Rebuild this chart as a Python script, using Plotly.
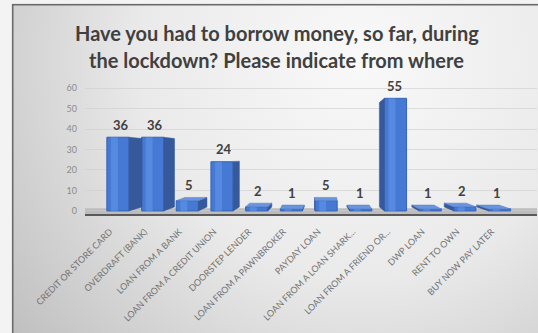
import base64
import plotly.graph_objects as go

# Sources of borrowing during the lockdown (number of respondents)
categories = [
    "CREDIT OR STORE CARD", "OVERDRAFT (BANK)", "LOAN FROM A BANK",
    "LOAN FROM A CREDIT UNION", "DOORSTEP LENDER", "LOAN FROM A PAWNBROKER",
    "PAYDAY LOAN", "LOAN FROM A LOAN SHARK...", "LOAN FROM A FRIEND OR...",
    "DWP LOAN", "RENT TO OWN", "BUY NOW PAY LATER",
]
counts = [36, 36, 5, 24, 2, 1, 5, 1, 55, 1, 2, 1]
y_ticks = [0, 10, 20, 30, 40, 50, 60]
title_lines = [
    "Have you had to borrow money, so far, during",
    "the lockdown? Please indicate from where",
]

W, H = 538, 333
ML, MR, MT, MB = 85, 1, 84, 119
PW, PH = W - ML - MR, H - MT - MB

X_RANGE = [-0.95, 12.08]
Y_RANGE = [-1.5, 62]

# pseudo-3D column geometry (in axis units)
BAR_W = 0.64
VANISH_X = 5.78      # columns left of this show their right side, right ones their left
SKEW = 0.065         # horizontal depth per unit distance from VANISH_X
EYE = 27.0           # height at which the back edge lines up with the front edge
RISE = 0.072         # upward depth shift per unit below EYE

FRONT = "#4679d3"
SHINE = "#5a8de4"
SIDE = "#35599a"
TOP = "#6a95de"


def depth_dx(i):
    return SKEW * (VANISH_X - i)


def rise(h):
    return RISE * (EYE - h)


def px_x(px):
    return (px - ML) / PW


def px_y(py):
    return 1 + (MT - py) / PH


side_x, side_y, top_x, top_y = [], [], [], []
for i, v in enumerate(counts):
    x0, x1 = i - BAR_W / 2, i + BAR_W / 2
    dx = depth_dx(i)
    edge = x1 if dx > 0 else x0
    side_x += [edge, edge + dx, edge + dx, edge, edge, None]
    side_y += [0, rise(0), v + rise(v), v, 0, None]
    if rise(v) > 0:
        top_x += [x0, x1, x1 + dx, x0 + dx, x0, None]
        top_y += [v, v, v + rise(v), v + rise(v), v, None]

xs = list(range(len(counts)))
fig = go.Figure()

fig.add_trace(go.Bar(
    x=xs, y=counts, width=BAR_W,
    marker=dict(color=FRONT, line=dict(color="#3563b5", width=1)),
    hoverinfo="skip", showlegend=False,
))
# soft highlight band on the column faces
fig.add_trace(go.Bar(
    x=xs, y=counts, width=0.2, offset=-0.2,
    marker=dict(color=SHINE, line=dict(width=0)), opacity=0.8,
    hoverinfo="skip", showlegend=False,
))
fig.add_trace(go.Scatter(
    x=side_x, y=side_y, mode="lines", fill="toself", fillcolor=SIDE,
    line=dict(color=SIDE, width=0.5), hoverinfo="skip", showlegend=False,
))
fig.add_trace(go.Scatter(
    x=top_x, y=top_y, mode="lines", fill="toself", fillcolor=TOP,
    line=dict(color="#4f7cc8", width=0.5), hoverinfo="skip", showlegend=False,
))

# value labels above each column
for i, v in enumerate(counts):
    fig.add_annotation(
        x=i + depth_dx(i) / 4, y=v + max(rise(v), 0), yshift=12,
        text=str(v), showarrow=False, yanchor="middle",
        font=dict(family="Lato", size=13, color="#404040", weight="bold"),
    )

# two-line chart title
for line, cy in zip(title_lines, [33, 60]):
    fig.add_annotation(
        xref="paper", yref="paper", x=px_x(276.5), y=px_y(cy),
        xanchor="center", yanchor="middle", text=line, showarrow=False,
        font=dict(family="Lato", size=20, color="#404040", weight="bold"),
    )

# floor band under the columns
fig.add_shape(
    type="rect", xref="paper", yref="y", x0=0, x1=1, y0=Y_RANGE[0], y1=1.3,
    fillcolor="#bcbcbc", line=dict(width=0), layer="below",
)

# chart area background: soft radial shading inside a framed panel
svg = (
    "<svg xmlns='http://www.w3.org/2000/svg' width='538' height='333' "
    "viewBox='0 0 538 333' preserveAspectRatio='none'>"
    "<defs><radialGradient id='g' cx='360' cy='60' r='440' gradientUnits='userSpaceOnUse'>"
    "<stop offset='0' stop-color='#f9f9f9'/>"
    "<stop offset='0.5' stop-color='#eaeaea'/>"
    "<stop offset='1' stop-color='#c0c0c0'/>"
    "</radialGradient></defs>"
    "<rect width='538' height='333' fill='#f3f3f3'/>"
    "<rect x='12.7' y='4.7' width='560' height='360' fill='url(#g)' "
    "stroke='#6a6a6a' stroke-width='1.6'/>"
    "</svg>"
)
bg_src = "data:image/svg+xml;base64," + base64.b64encode(svg.encode()).decode()
fig.add_layout_image(
    source=bg_src, xref="paper", yref="paper",
    x=-ML / PW, y=1 + MT / PH, sizex=W / PW, sizey=H / PH,
    xanchor="left", yanchor="top", sizing="stretch", layer="below",
)

fig.update_layout(
    width=W, height=H,
    margin=dict(l=ML, r=MR, t=MT, b=MB, pad=0),
    paper_bgcolor="rgba(0,0,0,0)", plot_bgcolor="rgba(0,0,0,0)",
    barmode="overlay",
    xaxis=dict(
        range=X_RANGE, tickmode="array", tickvals=xs,
        ticktext=categories, tickangle=-45, showgrid=False, zeroline=False,
        showline=True, linecolor="#5a5a5a", linewidth=2, ticks="",
        ticklabelshift=-8, ticklabelstandoff=7,
        tickfont=dict(family="Lato", size=9, color="#737373"),
    ),
    yaxis=dict(
        range=Y_RANGE, tickmode="array", tickvals=y_ticks,
        showgrid=True, gridcolor="rgba(205,205,205,0.6)", gridwidth=1,
        zeroline=False, showline=False, ticks="", ticklabelstandoff=7,
        tickfont=dict(family="Lato", size=9, color="#8c8c8c"),
    ),
)

fig.write_html("out.html")
